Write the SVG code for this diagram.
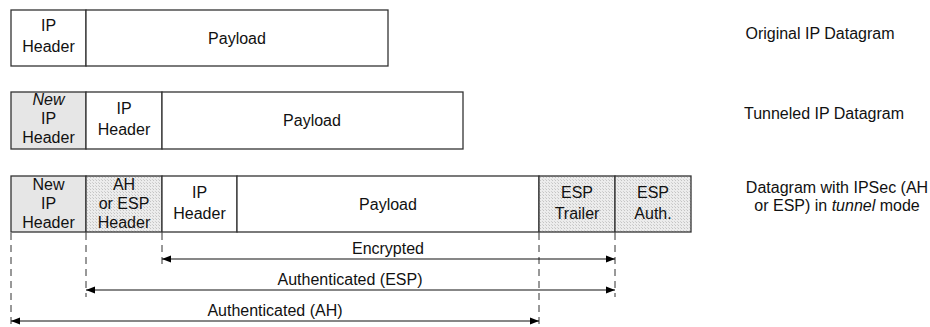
<svg xmlns="http://www.w3.org/2000/svg" width="930" height="327" viewBox="0 0 930 327">
<defs>
<pattern id="hatch" width="3" height="3" patternUnits="userSpaceOnUse">
<rect width="3" height="3" fill="#ececec"/>
<rect width="1" height="1" fill="#c4c4c4"/>
<rect x="2" y="2" width="1" height="1" fill="#d0d0d0"/>
</pattern>
<marker id="ah" viewBox="0 0 10 10" refX="10" refY="5" markerWidth="9" markerHeight="9" orient="auto-start-reverse" markerUnits="userSpaceOnUse">
<path d="M0,1 L10,5 L0,9 Z" fill="#000"/>
</marker>
<style>
.box{stroke:#333;stroke-width:1.3;fill:#fff}
.gray{fill:#e6e6e6}
.hat{fill:url(#hatch)}
text{font-family:"Liberation Sans",Arial,sans-serif;font-size:16px;fill:#111;text-anchor:middle}
.lbl{font-size:16px}
.dash{stroke:#333;stroke-width:1;stroke-dasharray:7,5;fill:none}
.arr{stroke:#111;stroke-width:1.2;fill:none;marker-start:url(#ah);marker-end:url(#ah)}
</style>
</defs>

<g id="row1">
<g id="r1-ipheader"><rect class="box" x="11" y="10" width="75" height="56"/><text x="48.5" y="31">IP</text><text x="48.5" y="52">Header</text></g>
<g id="r1-payload"><rect class="box" x="86" y="10" width="302" height="56"/><text x="237" y="44">Payload</text></g>
</g>

<g id="row2">
<g id="r2-newip"><rect class="box gray" x="11" y="92" width="75" height="57"/><text x="48.5" y="105" font-style="italic">New</text><text x="48.5" y="124">IP</text><text x="48.5" y="143">Header</text></g>
<g id="r2-ipheader"><rect class="box" x="86" y="92" width="76" height="57"/><text x="124" y="114">IP</text><text x="124" y="135">Header</text></g>
<g id="r2-payload"><rect class="box" x="162" y="92" width="301" height="57"/><text x="312" y="126">Payload</text></g>
</g>

<g id="row3">
<g id="r3-newip"><rect class="box gray" x="11" y="176" width="75" height="56"/><text x="48.5" y="190">New</text><text x="48.5" y="209">IP</text><text x="48.5" y="228">Header</text></g>
<g id="r3-ahesp"><rect class="box hat" x="86" y="176" width="76" height="56"/><text x="124" y="190">AH</text><text x="124" y="209">or ESP</text><text x="124" y="228">Header</text></g>
<g id="r3-ipheader"><rect class="box" x="162" y="176" width="75" height="56"/><text x="199.5" y="198">IP</text><text x="199.5" y="219">Header</text></g>
<g id="r3-payload"><rect class="box" x="237" y="176" width="302" height="56"/><text x="388" y="210">Payload</text></g>
<g id="r3-esptrailer"><rect class="box hat" x="539" y="176" width="76" height="56"/><text x="577" y="198">ESP</text><text x="577" y="219">Trailer</text></g>
<g id="r3-espauth"><rect class="box hat" x="615" y="176" width="76" height="56"/><text x="653" y="198">ESP</text><text x="653" y="219">Auth.</text></g>
</g>

<g id="labels">
<text x="820" y="39">Original IP Datagram</text>
<text x="824" y="119">Tunneled IP Datagram</text>
<text x="837" y="193">Datagram with IPSec (AH</text>
<text x="837" y="211">or ESP) in <tspan font-style="italic">tunnel</tspan> mode</text>
</g>

<g id="connectors">
<line class="dash" x1="11" y1="233" x2="11" y2="327"/>
<line class="dash" x1="86" y1="233" x2="86" y2="297"/>
<line class="dash" x1="162" y1="233" x2="162" y2="265"/>
<line class="dash" x1="539" y1="233" x2="539" y2="327"/>
<line class="dash" x1="615" y1="233" x2="615" y2="297"/>
<line class="arr" x1="162" y1="259" x2="615" y2="259"/>
<line class="arr" x1="86" y1="290" x2="615" y2="290"/>
<line class="arr" x1="11" y1="321" x2="539" y2="321"/>
<text x="388" y="254">Encrypted</text>
<text x="350" y="285">Authenticated (ESP)</text>
<text x="275" y="316">Authenticated (AH)</text>
</g>
</svg>
